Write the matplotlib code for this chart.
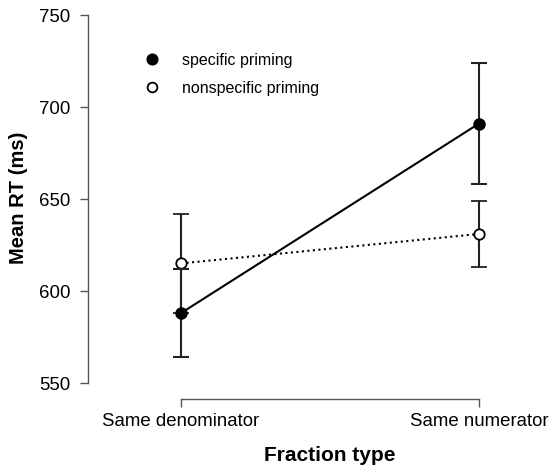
import matplotlib.pyplot as plt
from matplotlib.lines import Line2D

plt.rcParams['font.family'] = ['Liberation Sans', 'DejaVu Sans']

# data
fraction_types = ["Same denominator", "Same numerator"]
specific_mean = [588, 691]
specific_err = [24, 33]
nonspecific_mean = [615, 631]
nonspecific_err = [27, 18]
y_ticks = [550, 600, 650, 700, 750]

x = [0, 1]

fig = plt.figure(figsize=(5.49, 4.65), dpi=100)
ax = fig.add_axes([88 / 549, 66 / 465, 452 / 549, 391 / 465])

ax.errorbar(x, nonspecific_mean, yerr=nonspecific_err, color='black', ls=':', lw=1.5,
            marker='o', ms=7.5, mfc='white', mec='black', mew=1.3,
            ecolor='#222222', elinewidth=1.5, capsize=6, capthick=1.5, zorder=3)
ax.errorbar(x, specific_mean, yerr=specific_err, color='black', ls='-', lw=1.5,
            marker='o', ms=8, mfc='black', mec='black',
            ecolor='#222222', elinewidth=1.5, capsize=6, capthick=1.5, zorder=4)

ax.set_xlim((88 - 181) / 298, 1 + (540 - 479) / 298)
ax.set_ylim(550 - 16 / 1.84, 750 + 7 / 1.84)

for s in ['top', 'right']:
    ax.spines[s].set_visible(False)
ax.spines['left'].set_bounds(550, 750)
ax.spines['bottom'].set_bounds(0, 1)
for s in ['left', 'bottom']:
    ax.spines[s].set_color('#555555')
    ax.spines[s].set_linewidth(1)

ax.set_yticks(y_ticks)
ax.set_xticks(x)
ax.set_xticklabels(fraction_types)
ax.tick_params(axis='both', direction='out', length=5.5, width=1, color='#555555',
               labelcolor='black', labelsize=13.4)
ax.tick_params(axis='x', pad=4.5)
ax.tick_params(axis='y', pad=7)

ax.set_xlabel("Fraction type", fontsize=15, fontweight='bold')
ax.xaxis.set_label_coords(0.535, -0.12)
ax.set_ylabel("Mean RT (ms)", fontsize=14.5, fontweight='bold')
ax.yaxis.set_label_coords(-0.133, 0.514)

handles = [
    Line2D([], [], ls='None', marker='o', ms=7.7, mfc='black', mec='black'),
    Line2D([], [], ls='None', marker='o', ms=7, mfc='white', mec='black', mew=1.3),
]
ax.legend(handles, ["specific priming", "nonspecific priming"], loc='upper left',
          bbox_to_anchor=(0.124, 0.885), frameon=False, fontsize=11.5,
          handlelength=1, handletextpad=1.375, labelspacing=0.82,
          borderpad=0, borderaxespad=0)

fig.savefig("out.png", dpi=100)
